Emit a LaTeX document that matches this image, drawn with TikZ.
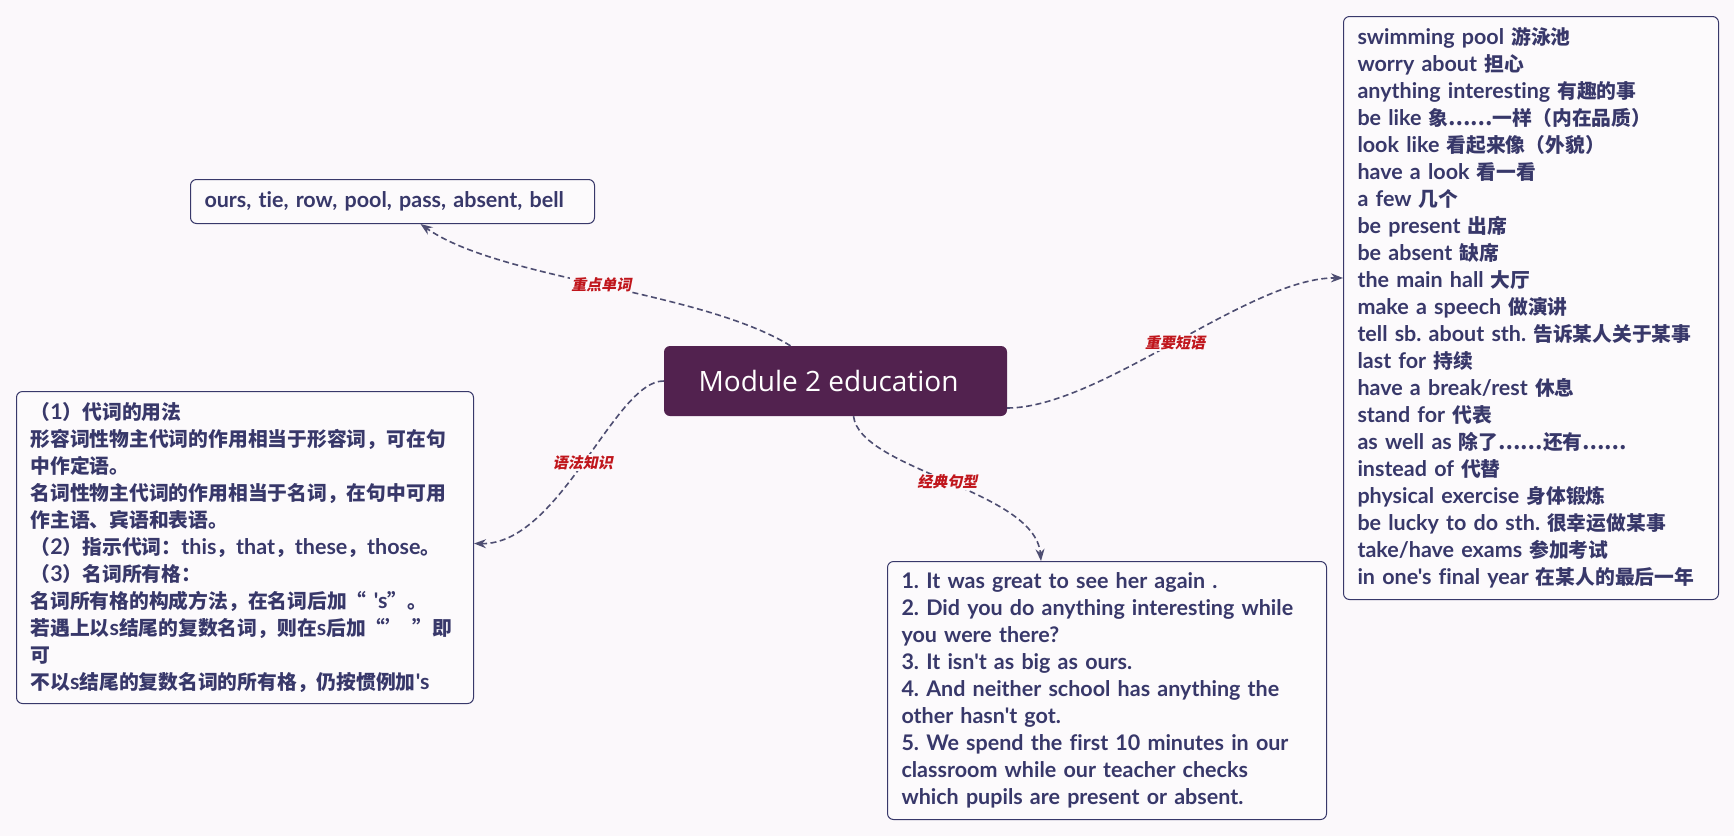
\documentclass[tikz,border=0pt]{standalone}
\usepackage{fontspec}
\usepackage{xcolor}
\usetikzlibrary{arrows.meta}
\setmainfont{Lato}[Ligatures={TeXOff,NoCommon}]
\newfontfamily\cjkfont[Scale=0.92]{Noto Sans CJK SC}
\newfontfamily\titlefont{Open Sans}
\newfontfamily\tagfont[FakeSlant=0.2]{Noto Sans CJK SC}
\newcommand\zh[1]{{\cjkfont #1}}
\frenchspacing
\definecolor{paper}      {HTML}{FBF8FB}
\definecolor{topicPurple}{HTML}{52224F}
\definecolor{inkBlue}    {HTML}{38386A}
\definecolor{linkGray}   {HTML}{4E4E72}
\definecolor{tagRed}     {HTML}{C0161C}
\definecolor{leafFill}   {HTML}{FCFAFC}
\tikzset{
  link/.style={-{Stealth[length=12pt,width=9pt]},draw=linkGray,line width=1.6pt,dash pattern=on 6pt off 3.5pt},
  topic/.style={rectangle,rounded corners=6pt,fill=topicPurple,text=white,
    minimum width=343pt,minimum height=70pt,font=\titlefont\fontsize{28}{34}\selectfont},
  leaf/.style={rectangle,rounded corners=6pt,draw=inkBlue,line width=1pt,fill=leafFill,text=inkBlue,
    anchor=north west,align=left,inner xsep=14pt,inner ysep=4pt,font=\bfseries\fontsize{21.5}{27}\selectfont},
  tag/.style={font=\tagfont\bfseries\fontsize{15}{18}\selectfont,text=tagRed,fill=paper,inner sep=1pt},
}

\begin{document}
\begin{tikzpicture}[x=1pt,y=-1pt]

\fill[paper] (0,0) rectangle (1734,836);

\node[topic] (centre) at (835.5,381) {Module 2 education\hspace*{14pt}};

\node[leaf,text width=376pt,minimum height=44pt] (words) at (190,179)
  {ours, tie, row, pool, pass, absent, bell};

\node[leaf,text width=429pt,minimum height=312pt] (grammar) at (16,391)
  {\zh{（}1\zh{）代词的用法}\\
   \zh{形容词性物主代词的作用相当于形容词，可在句}\\
   \zh{中作定语。}\\
   \zh{名词性物主代词的作用相当于名词，在句中可用}\\
   \zh{作主语、宾语和表语。}\\
   \zh{（}2\zh{）指示代词：}this\zh{，}that\zh{，}these\zh{，}those\zh{。}\\
   \zh{（}3\zh{）名词所有格：}\\
   \zh{名词所有格的构成方法，在名词后加“} 's\zh{”。}\\
   \zh{若遇上以}s\zh{结尾的复数名词，则在}s\zh{后加“’ ”即}\\
   \zh{可}\\
   \zh{不以}s\zh{结尾的复数名词的所有格，仍按惯例加}'s};

\node[leaf,text width=411pt,minimum height=258pt] (sentences) at (887,561)
  {1. It was great to see her again .\\
   2. Did you do anything interesting while\\
   you were there?\\
   3. It isn't as big as ours.\\
   4. And neither school has anything the\\
   other hasn't got.\\
   5. We spend the first 10 minutes in our\\
   classroom while our teacher checks\\
   which pupils are present or absent.};

\node[leaf,text width=347pt,minimum height=583pt] (phrases) at (1343,16)
  {swimming pool \zh{游泳池}\\
   worry about \zh{担心}\\
   anything interesting \zh{有趣的事}\\
   be like \zh{象……一样（内在品质）}\\
   look like \zh{看起来像（外貌）}\\
   have a look \zh{看一看}\\
   a few \zh{几个}\\
   be present \zh{出席}\\
   be absent \zh{缺席}\\
   the main hall \zh{大厅}\\
   make a speech \zh{做演讲}\\
   tell sb. about sth. \zh{告诉某人关于某事}\\
   last for \zh{持续}\\
   have a break/rest \zh{休息}\\
   stand for \zh{代表}\\
   as well as \zh{除了……还有……}\\
   instead of \zh{代替}\\
   physical exercise \zh{身体锻炼}\\
   be lucky to do sth. \zh{很幸运做某事}\\
   take/have exams \zh{参加考试}\\
   in one's final year \zh{在某人的最后一年}};

\draw[link] ([xshift=-45pt]centre.north) .. controls (700,290) and (500,280) .. ([xshift=28pt]words.south)
  node[tag,pos=0.5] (tagWords) {重点单词};
\draw[link] (centre.west) .. controls (615,380) and (560,545) .. ([yshift=4pt]grammar.east)
  node[tag,pos=0.5] (tagGrammar) {语法知识};
\draw[link] ([xshift=18pt]centre.south) .. controls (860,470) and (1035,490) .. ([xshift=-66pt]sentences.north)
  node[tag,pos=0.5] (tagSentences) {经典句型};
\draw[link] ([yshift=-27pt]centre.east) .. controls (1100,408) and (1250,277) .. ([yshift=30pt]phrases.west)
  node[tag,pos=0.5] (tagPhrases) {重要短语};

\end{tikzpicture}
\end{document}
